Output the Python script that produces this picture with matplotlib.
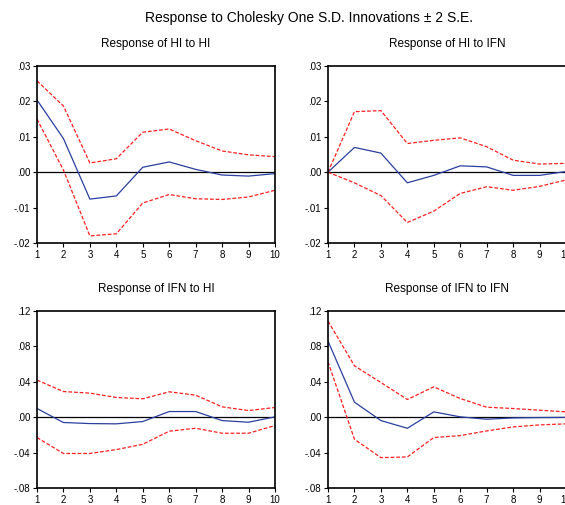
import matplotlib.pyplot as plt
from matplotlib.ticker import FuncFormatter

plt.rcParams['font.family'] = ['Liberation Sans', 'DejaVu Sans']

periods = list(range(1, 11))

titles = ["Response of HI to HI", "Response of HI to IFN",
          "Response of IFN to HI", "Response of IFN to IFN"]

hi_hi = [0.0204, 0.0095, -0.0076, -0.0067, 0.0014, 0.0029, 0.0008, -0.0008, -0.0011, -0.0004]
hi_hi_up = [0.0258, 0.0187, 0.0026, 0.0038, 0.0113, 0.0122, 0.0089, 0.0060, 0.0049, 0.0044]
hi_hi_lo = [0.0150, 0.0006, -0.0180, -0.0174, -0.0087, -0.0063, -0.0075, -0.0077, -0.0070, -0.0051]

hi_ifn = [0.0, 0.0070, 0.0054, -0.0030, -0.0009, 0.0018, 0.0015, -0.0009, -0.0009, 0.0002]
hi_ifn_up = [0.0, 0.0171, 0.0174, 0.0081, 0.0090, 0.0097, 0.0072, 0.0034, 0.0023, 0.0025]
hi_ifn_lo = [0.0, -0.0030, -0.0066, -0.0142, -0.0110, -0.0060, -0.0041, -0.0051, -0.0040, -0.0022]

ifn_hi = [0.0098, -0.0060, -0.0072, -0.0075, -0.0049, 0.0064, 0.0064, -0.0038, -0.0057, 0.0004]
ifn_hi_up = [0.0419, 0.0290, 0.0272, 0.0223, 0.0208, 0.0287, 0.0249, 0.0117, 0.0075, 0.0110]
ifn_hi_lo = [-0.0230, -0.0410, -0.0410, -0.0366, -0.0306, -0.0158, -0.0125, -0.0181, -0.0181, -0.0094]

ifn_ifn = [0.0860, 0.0170, -0.0038, -0.0125, 0.0060, 0.0004, -0.0023, -0.0008, -0.0004, -0.0002]
ifn_ifn_up = [0.1087, 0.0581, 0.0392, 0.0200, 0.0343, 0.0211, 0.0113, 0.0098, 0.0079, 0.0060]
ifn_ifn_lo = [0.0626, -0.0249, -0.0457, -0.0449, -0.0230, -0.0208, -0.0155, -0.0110, -0.0087, -0.0075]

series = [(hi_hi, hi_hi_up, hi_hi_lo), (hi_ifn, hi_ifn_up, hi_ifn_lo),
          (ifn_hi, ifn_hi_up, ifn_hi_lo), (ifn_ifn, ifn_ifn_up, ifn_ifn_lo)]

yticks_top = [-0.02, -0.01, 0.0, 0.01, 0.02, 0.03]
yticks_bot = [-0.08, -0.04, 0.0, 0.04, 0.08, 0.12]


def fmt_tick(v, pos):
    # EViews style: drop the leading zero (.02, -.01)
    return f"{v:.2f}".replace("0.", ".", 1)


W, H = 565, 505
fig = plt.figure(figsize=(W / 100, H / 100), dpi=100)
fig.text(309 / W, 1 - 18 / H, "Response to Cholesky One S.D. Innovations \u00b1 2 S.E.",
         ha="center", va="center", fontsize=10)

# axes boxes in pixels: left, top, right, bottom
boxes = [(37, 66, 275, 243), (328, 66, 566, 243),
         (37, 311, 275, 488), (328, 311, 566, 488)]

for i, (box, title, (mid, up, lo)) in enumerate(zip(boxes, titles, series)):
    l, t, r, b = box
    ax = fig.add_axes([l / W, 1 - b / H, (r - l) / W, (b - t) / H])
    ax.axhline(0, color="black", lw=0.9, zorder=1)
    ax.plot(periods, up, color="#ff2020", lw=0.9, ls=(0, (3, 1.5)))
    ax.plot(periods, lo, color="#ff2020", lw=0.9, ls=(0, (3, 1.5)))
    ax.plot(periods, mid, color="#2a3f9f", lw=0.9)
    ax.set_xlim(1, 10)
    ax.set_xticks(periods)
    if i < 2:
        ax.set_ylim(-0.02, 0.03)
        ax.set_yticks(yticks_top)
    else:
        ax.set_ylim(-0.08, 0.12)
        ax.set_yticks(yticks_bot)
    ax.yaxis.set_major_formatter(FuncFormatter(fmt_tick))
    ax.tick_params(labelsize=7, length=3, width=0.8, direction="out", pad=2)
    for sp in ax.spines.values():
        sp.set_linewidth(1.2)
    ax.set_title(title, fontsize=8.5, pad=14)

fig.savefig("out.png", dpi=100)
